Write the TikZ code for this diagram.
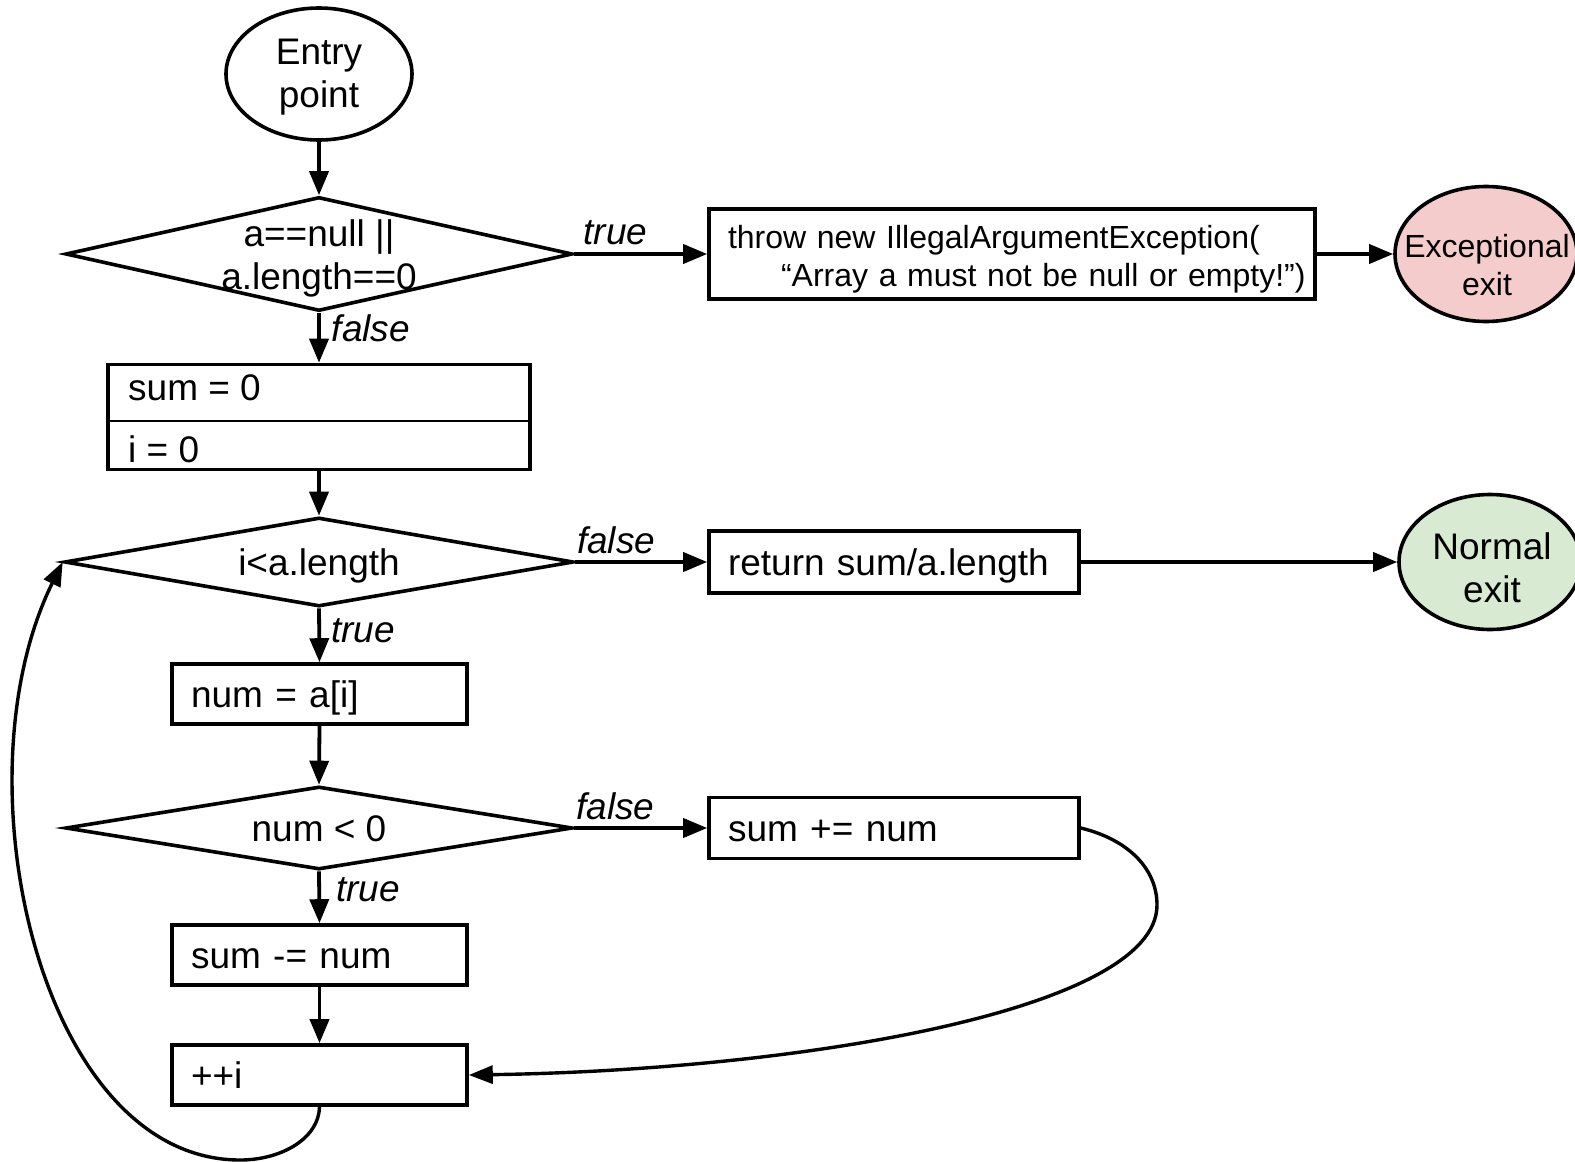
\documentclass[tikz,border=0pt]{standalone}
\usepackage{fontspec}
\setmainfont{Liberation Sans}
\usetikzlibrary{shapes.geometric,arrows.meta}
\definecolor{exfill}{HTML}{F4CCCC}
\definecolor{nofill}{HTML}{D9EAD3}
\begin{document}
\begin{tikzpicture}[x=1pt,y=-1pt,
  every node/.style={font=\fontsize{37}{43}\selectfont},
  ln/.style={line width=3.6pt},
  conn/.style={line width=3.8pt, -{Triangle[length=24pt,width=19pt]}},
  cconn/.style={line width=3.4pt, -{Triangle[length=24pt,width=18pt]}},
  term/.style={ellipse, draw, line width=3.6pt, inner sep=0pt, minimum width=182pt, minimum height=135pt},
  dec/.style={diamond, draw, line width=3.6pt, inner sep=0pt},
  box/.style={draw, line width=3.6pt, align=left, inner xsep=19pt, inner ysep=0pt},
  one/.style={text height=31pt, text depth=5pt},
  txt/.style={align=center, inner sep=0pt},
  lbl/.style={font=\fontsize{37}{43}\selectfont\itshape, inner sep=0pt}
]
\useasboundingbox (0,0) rectangle (1575,1162);

% terminals
\node[term, minimum width=186pt, minimum height=132pt] (entry) at (319,74) {};
\node[txt] (entryt) at (319,77) {Entry\\point};
\node[term, fill=exfill] (exc) at (1486,254) {};
\node[txt, font=\fontsize{32}{38}\selectfont] (exct) at (1487,265) {Exceptional\\exit};
\node[term, fill=nofill] (norm) at (1490,562) {};
\node[txt] (normt) at (1492,568) {Normal\\exit};

% decisions
\node[dec, minimum width=507pt, minimum height=114pt] (d1) at (319,254) {};
\node[txt] (d1t) at (319,258) {a==null ||\\a.length==0};
\node[dec, minimum width=509pt, minimum height=89pt] (d2) at (319,562) {};
\node[txt] (d2t) at (319,566) {i<a.length};
\node[dec, minimum width=507pt, minimum height=83pt] (d3) at (319,828) {};
\node[txt] (d3t) at (319,829) {num < 0};

% init box
\node[draw, ln, minimum width=422pt, minimum height=105pt, inner sep=0pt] (init) at (319,417) {};
\draw[line width=2pt] ([yshift=-4pt]init.west) -- ([yshift=-4pt]init.east);
\node[anchor=base west, inner sep=0pt] (it1) at (128,400) {sum = 0};
\node[anchor=base west, inner sep=0pt] (it2) at (128,462) {i = 0};

% boxes
\node[box, one, text width=257pt, minimum height=60pt] (n1) at (319.5,694) {num = a[i]};
\node[box, one, text width=257pt, minimum height=60pt] (sub) at (319.5,955) {sum -= num};
\node[box, one, text width=257pt, minimum height=60pt] (inc) at (319.5,1075) {++i};
\node[box, one, text width=332pt, minimum height=62pt] (ret) at (894,562) {return sum/a.length};
\node[box, one, text width=332pt, minimum height=61pt] (add) at (894,828) {sum += num};
\node[box, text width=568pt, minimum height=90pt, text height=33pt, text depth=45pt,
      font=\fontsize{32}{38}\selectfont] (thr) at (1012,254)
  {\mbox{throw new IllegalArgumentException(}\\\mbox{\hspace*{53pt}“Array a must not be null or empty!”)}};

% connectors
\draw[conn] (entry.south) -- (d1.north);
\draw[conn] (d1.east) -- node[lbl, anchor=base, pos=.31, yshift=10pt] (l1) {true} (thr.west);
\draw[conn] (thr.east) -- (exc.west);
\draw[conn] (d1.south) -- node[lbl, anchor=base west, pos=.57, xshift=11pt] (l2) {false} (init.north);
\draw[conn] (init.south) -- (d2.north);
\draw[conn] (d2.east) -- node[lbl, anchor=base, pos=.31, yshift=9pt] (l3) {false} (ret.west);
\draw[conn] (ret.east) -- (norm.west);
\draw[conn] (d2.south) -- node[lbl, anchor=base west, pos=.63, xshift=10pt] (l4) {true} (n1.north);
\draw[conn] (n1.south) -- (d3.north);
\draw[conn] (d3.east) -- node[lbl, anchor=base, pos=.31, yshift=9pt] (l5) {false} (add.west);
\draw[conn] (d3.south) -- node[lbl, anchor=base west, pos=.59, xshift=15pt] (l6) {true} (sub.north);
\draw[conn] (sub.south) -- (inc.north);
\draw[cconn] (add.east) .. controls (1130,840) and (1157,870) .. (1157,905)
  .. controls (1157,1010) and (800,1070) .. (inc.east);
\draw[cconn] (inc.south) .. controls (319,1138) and (282,1160) .. (240,1160)
  .. controls (40,1160) and (-45,780) .. (d2.west);
\end{tikzpicture}
\end{document}
